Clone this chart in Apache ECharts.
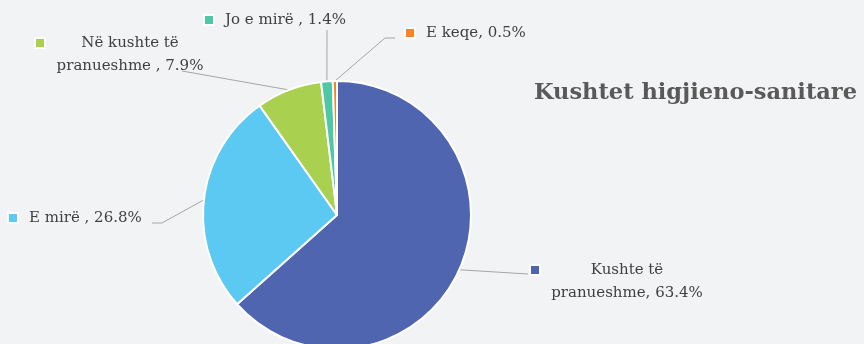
<!DOCTYPE html>
<html><head><meta charset="utf-8">
<script src="https://cdn.jsdelivr.net/npm/echarts@6/dist/echarts.min.js"></script>
<style>html,body{margin:0;padding:0;background:#F2F3F5}#c{width:864px;height:344px}</style>
</head><body><div id="c"></div>
<script>
// ---- data ----
const categories = ['Kushte të pranueshme', 'E mirë', 'Në kushte të pranueshme', 'Jo e mirë', 'E keqe'];
const values = [63.4, 26.8, 7.9, 1.4, 0.5];
const labelNames = ['Kushte të\npranueshme', 'E mirë', 'Në kushte të\npranueshme', 'Jo e mirë', 'E keqe'];
const labelSeps = [', ', ' , ', ' , ', ' , ', ', '];
const colors = ['#5065B0', '#5BC9F1', '#A9D04F', '#4EC7A4', '#F4842C'];
const titleText = 'Kushtet higjieno-sanitare';

// ---- styling / layout ----
const FF = 'DejaVu Serif';
const FS = 15;
const LH = 23;
const TXT = '#404040';
// marker left x, first-line centre y, text centre x (multi-line) or null, leader elbow points
const labelLayoutCfg = [
  {mx: 531, cy: 270, tc: 627, pts: [[528, 274]]},
  {mx: 9, cy: 218, tc: null, pts: [[162, 223], [152, 223]]},
  {mx: 36, cy: 43, tc: 130, pts: [[182, 71]]},
  {mx: 205, cy: 20, tc: null, pts: [[327, 30]]},
  {mx: 406, cy: 33, tc: null, pts: [[385, 38], [395, 38]]}
];
const SQ = 8, GAP = 12;

const ctx = document.createElement('canvas').getContext('2d');
ctx.font = FS + 'px "' + FF + '"';
const mw = s => ctx.measureText(s).width;

const data = categories.map((n, i) => {
  const txt = labelNames[i] + labelSeps[i] + values[i] + '%';
  const lines = txt.split('\n');
  const cfg = labelLayoutCfg[i];
  const rich = {
    sq: {width: SQ, height: SQ, backgroundColor: colors[i], borderColor: '#fff', borderWidth: 2, verticalAlign: 'middle', lineHeight: LH},
    t: {fontFamily: FF, fontSize: FS, color: TXT, lineHeight: LH}
  };
  let fmt = '';
  lines.forEach((ln, k) => {
    let gap;
    if (cfg.tc === null) {
      gap = k === 0 ? GAP : SQ + GAP;
    } else {
      const start = cfg.tc - mw(ln) / 2 - cfg.mx;
      gap = k === 0 ? Math.max(2, start - SQ) : Math.max(1, start);
    }
    rich['g' + k] = {width: gap, height: 1, lineHeight: LH};
    fmt += (k ? '\n' : '') + (k === 0 ? '{sq| }' : '') + '{g' + k + '| }{t|' + ln + '}';
  });
  return {
    name: n, value: values[i],
    itemStyle: {color: colors[i]},
    label: {formatter: fmt, rich: rich}
  };
});

const chart = echarts.init(document.getElementById('c'), null, {renderer: 'canvas'});
chart.setOption({
  backgroundColor: '#F2F3F5',
  animation: false,
  title: {
    text: titleText, left: 529, top: 77, padding: 5,
    textStyle: {fontFamily: FF, fontSize: 22.5, fontWeight: 'bold', color: '#595959'}
  },
  series: [{
    type: 'pie',
    center: [337, 215],
    radius: 134,
    startAngle: 90,
    clockwise: true,
    avoidLabelOverlap: false,
    silent: true,
    itemStyle: {borderColor: '#fff', borderWidth: 2},
    label: {show: true, position: 'outside', padding: 0},
    labelLine: {show: true, length: 10, length2: 10, lineStyle: {color: '#A6A6A6', width: 1}},
    labelLayout: function (p) {
      const cfg = labelLayoutCfg[p.dataIndex];
      const start = p.labelLinePoints ? p.labelLinePoints[0] : cfg.pts[0];
      return {
        x: cfg.mx, y: cfg.cy - LH / 2,
        align: 'left', verticalAlign: 'top',
        labelLinePoints: [start].concat(cfg.pts)
      };
    },
    data: data
  }]
});
</script></body></html>
